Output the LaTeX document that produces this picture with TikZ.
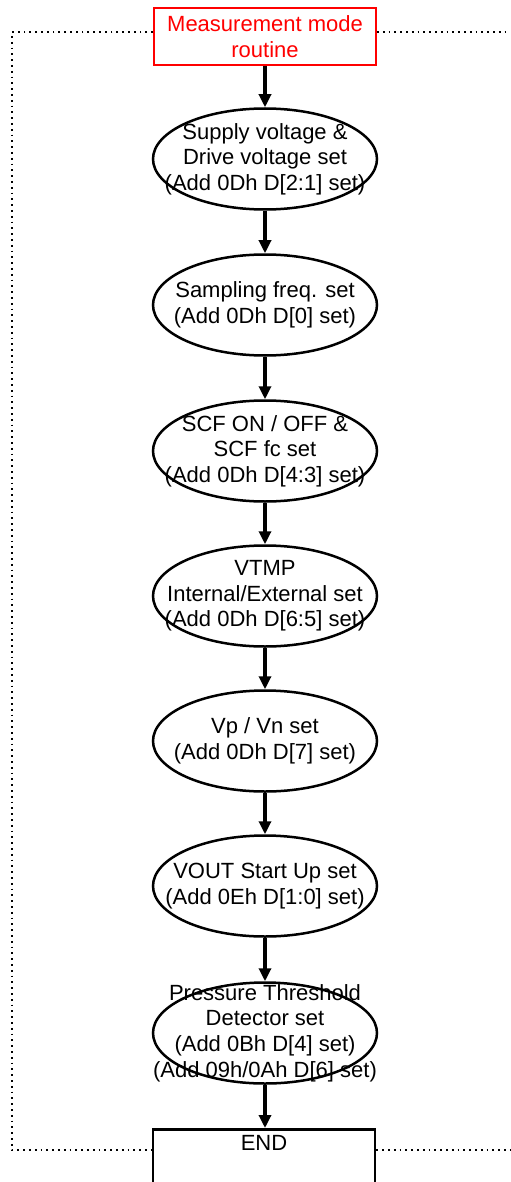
\documentclass[tikz,border=0pt]{standalone}
\usepackage{fontspec}
\setmainfont{Liberation Sans}
\usetikzlibrary{shapes.geometric,arrows.meta}

\begin{document}
\begin{tikzpicture}[x=0.5pt,y=-0.5pt,>={Triangle[length=6.5pt,width=6pt]},line width=1pt]
	% Text for this sheet
	\tikzstyle{every node}=[font=\fontsize{11}{12.8}\selectfont]
	\tikzstyle{stepellipse}=[draw,line width=1.25pt,ellipse,inner sep=0pt,minimum width=112pt,minimum height=50.5pt]
	\tikzstyle{steptext}=[align=center,inner sep=0pt]
	\tikzstyle{flow}=[->,line width=1.6pt]
	\tikzstyle{frame}=[dotted,line width=0.9pt]

	% fix the size of the sheet
	\useasboundingbox (0,0) rectangle (510,1182);

	% the start box
	\node[draw=red,text=red,align=center,inner sep=0pt,minimum width=111pt,minimum height=28.5pt] (start) at (265,36.5) {Measurement mode\\routine};

	% the ellipses of the steps, n: number, y: height of the centre
	\foreach \n/\y in {1/159, 2/305, 3/451, 4/596, 5/741, 6/886, 7/1033}
	{
		\node[stepellipse] (s\n) at (265,\y) {};
	}

	% the texts of the steps, written over the ellipses
	\node[steptext] (t1) at (s1) {Supply voltage \&\\Drive voltage set\\(Add 0Dh D[2:1] set)};
	\node[steptext] (t2) at (s2) {Sampling freq. set\\(Add 0Dh D[0] set)};
	\node[steptext] (t3) at (s3) {SCF ON / OFF \&\\SCF fc set\\(Add 0Dh D[4:3] set)};
	\node[steptext] (t4) at (s4) {VTMP\\Internal/External set\\(Add 0Dh D[6:5] set)};
	\node[steptext] (t5) at (s5) {Vp / Vn set\\(Add 0Dh D[7] set)};
	\node[steptext] (t6) at (s6) {VOUT Start Up set\\(Add 0Eh D[1:0] set)};
	\node[steptext] (t7) at (s7) {Pressure Threshold\\Detector set\\(Add 0Bh D[4] set)\\(Add 09h/0Ah D[6] set)};

	% the end box, cut by the lower edge
	\node[draw,line width=1.4pt,minimum width=111pt,minimum height=40pt,anchor=north] (endbox) at (264,1128) {};
	\node (endtxt) at (264,1143) {END};

	% arrows from step to step
	\draw[flow] (start) -- (s1);
	\foreach \a/\b in {1/2, 2/3, 3/4, 4/5, 5/6, 6/7}
	{
		\draw[flow] (s\a) -- (s\b);
	}
	\draw[flow] (s7.south) -- (s7.south |- endbox.north);

	% the dotted frame round the routine
	\coordinate (tl) at (12,32);
	\coordinate (bl) at (12,1150);
	\coordinate (tr) at (510,32);
	\coordinate (br) at (510,1150);
	\draw[frame] (start.west |- tl) -- (tl) -- (bl) -- (endbox.west |- bl);
	\draw[frame] (start.east |- tr) -- (tr);
	\draw[frame] (endbox.east |- br) -- (br);
\end{tikzpicture}
\end{document}
